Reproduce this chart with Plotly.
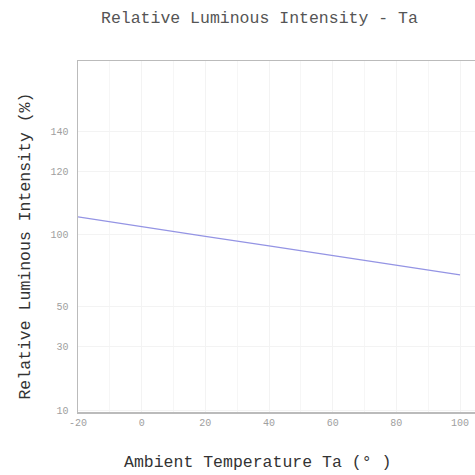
import numpy as np
import plotly.graph_objects as go

# Data
temperature = [-20, 0, 20, 40, 60, 80, 100]
intensity = [105.5, 102.3, 98.4, 91.8, 85.1, 78.6, 71.9]

x_ticks = [-20, 0, 20, 40, 60, 80, 100]
y_tick_labels = [10, 30, 50, 100, 120, 140]
# non-uniform axis positions of the y tick labels (as drawn in the original)
y_tick_pos = [1.8, 65.5, 105.5, 178.5, 240.8, 281.8]

y_plot = np.interp(intensity, y_tick_labels, y_tick_pos)

mono = "Liberation Mono, DejaVu Sans Mono, monospace"

W = H = 475
L, T, B_px, R_px = 77.5, 60.5, 412.5, 475
pw, ph = R_px - L, B_px - T


def px(xw):
    return (xw - L) / pw


def py(yw):
    return (B_px - yw) / ph


fig = go.Figure()
fig.add_trace(go.Scatter(
    x=temperature, y=y_plot, mode="lines",
    line=dict(color="#9494e4", width=1.2),
    showlegend=False, hoverinfo="skip"))

fig.update_layout(
    width=W, height=H,
    margin=dict(l=L, r=W - R_px, t=T, b=H - B_px, autoexpand=False),
    paper_bgcolor="white", plot_bgcolor="white",
    font=dict(family=mono, color="#444"),
)
fig.add_annotation(text="Relative Luminous Intensity - Ta",
                   xref="paper", yref="paper", x=px(259), y=py(18),
                   showarrow=False, xanchor="center", yanchor="middle",
                   font=dict(size=16.5, family=mono, color="#555"))
fig.add_annotation(text="Ambient Temperature Ta (° )",
                   xref="paper", yref="paper", x=px(257), y=py(463),
                   showarrow=False, xanchor="center", yanchor="middle",
                   font=dict(size=16.5, family=mono, color="#333"))
fig.add_annotation(text="Relative Luminous Intensity (%)",
                   xref="paper", yref="paper", textangle=-90,
                   x=px(25), y=py(246),
                   showarrow=False, xanchor="center", yanchor="middle",
                   font=dict(size=16.5, family=mono, color="#333"))

fig.update_xaxes(
    range=[-20, 104.7], tickvals=x_ticks, ticktext=[str(v) for v in x_ticks],
    showline=True, linecolor="#bbbbbb", linewidth=1.5, mirror=True,
    showgrid=True, gridcolor="#f3f3f3", gridwidth=1,
    minor=dict(dtick=10, showgrid=True, gridcolor="#f6f6f6"),
    ticks="", tickfont=dict(size=10, color="#a0a0a0", family=mono),
    zeroline=False, fixedrange=True)
fig.update_yaxes(
    range=[0, 352], tickvals=y_tick_pos, ticktext=[str(v) for v in y_tick_labels],
    showline=True, linecolor="#bbbbbb", linewidth=1.5,
    showgrid=True, gridcolor="#f3f3f3", gridwidth=1,
    ticks="", tickfont=dict(size=10, color="#a0a0a0", family=mono),
    ticklabelstandoff=6,
    zeroline=False, fixedrange=True)

fig.write_html(
    "out.html",
    config={"displayModeBar": False, "staticPlot": True},
    post_script="document.body.style.margin='0';document.body.style.overflow='hidden';",
)
